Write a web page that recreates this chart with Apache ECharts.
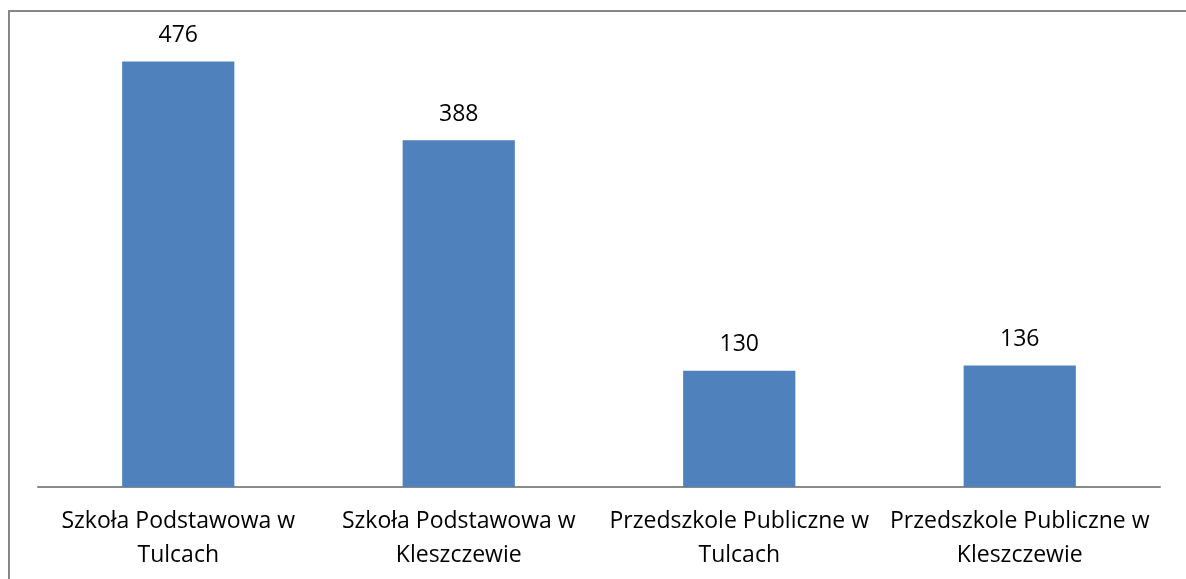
<!DOCTYPE html>
<html>
<head>
<meta charset="utf-8">
<script src="https://cdn.jsdelivr.net/npm/echarts@6/dist/echarts.min.js"></script>
<style>
  html, body { margin: 0; padding: 0; background: #fff; }
  #main { width: 1186px; height: 579px; }
</style>
</head>
<body>
<div id="main"></div>
<script>
// kategorie i wartości
const categories = [
  'Szkoła Podstawowa w\nTulcach',
  'Szkoła Podstawowa w\nKleszczewie',
  'Przedszkole Publiczne w\nTulcach',
  'Przedszkole Publiczne w\nKleszczewie'
]
const values = [476, 388, 130, 136]

const font = '"Open Sans", "Noto Sans", sans-serif'

let myChart = echarts.init(document.getElementById('main'))

myChart.setOption({
  animation: false,
  backgroundColor: '#fff',
  // ramka wykresu (przycięta z prawej i od dołu)
  graphic: [{
    type: 'rect',
    shape: {x: 9, y: 11, width: 1400, height: 800},
    style: {fill: 'none', stroke: '#868686', lineWidth: 2}
  }],
  grid: {left: 38, right: 26, top: 40, bottom: 92},
  xAxis: {
    type: 'category',
    data: categories,
    axisTick: {show: false},
    axisLine: {lineStyle: {color: '#8a8a8a', width: 2}},
    axisLabel: {
      interval: 0,
      color: '#000',
      fontFamily: font,
      fontSize: 23,
      lineHeight: 34,
      margin: 17
    }
  },
  yAxis: {
    type: 'value',
    min: 0,
    max: 500,
    show: false,
    splitLine: {show: false}
  },
  series: [{
    type: 'bar',
    data: values,
    barWidth: '40%',
    itemStyle: {color: '#4F81BD'},
    label: {
      show: true,
      position: 'top',
      distance: 14,
      color: '#000',
      fontFamily: font,
      fontSize: 23,
      lineHeight: 24
    }
  }]
})
</script>
</body>
</html>
